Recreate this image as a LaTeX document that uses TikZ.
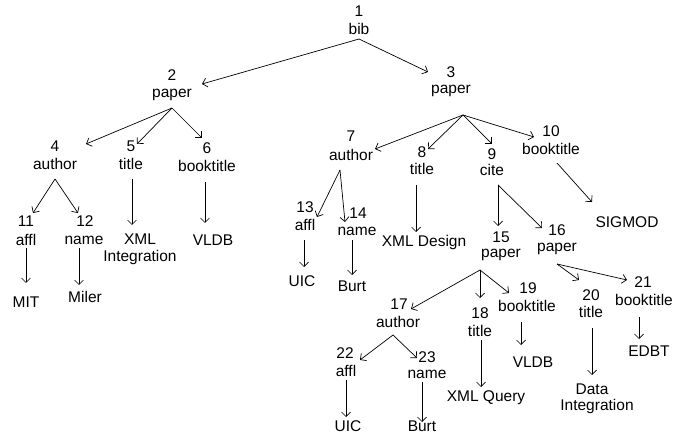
\documentclass[tikz,border=0pt]{standalone}
\usepackage{fontspec}
\setmainfont{Liberation Sans}
\usetikzlibrary{arrows.meta}
\begin{document}
\begin{tikzpicture}[x=1pt,y=-1pt,
  t/.style={anchor=base,inner sep=0pt,font=\fontsize{15.5}{17}\selectfont},
  arr/.style={-{Straight Barb[length=4.5pt,width=9pt]},line width=0.7pt}]
\useasboundingbox[fill=white] (0,0) rectangle (686,438);
% numbered nodes: i = number, n = label
\node[t] (i1) at (359,16.5) {1};   \node[t] (n1) at (359,35) {bib};
\node[t] (i2) at (172,80.5) {2};   \node[t] (n2) at (172,97.3) {paper};
\node[t] (i3) at (451,77.5) {3};   \node[t] (n3) at (451,94) {paper};
\node[t] (i4) at (55,151.5) {4};   \node[t] (n4) at (55,170) {author};
\node[t] (i5) at (131,151.5) {5};  \node[t] (n5) at (131,170) {title};
\node[t] (i6) at (207,153.5) {6};  \node[t] (n6) at (207,172) {booktitle};
\node[t] (i7) at (351,141.5) {7};  \node[t] (n7) at (351,161) {author};
\node[t] (i8) at (422,157.5) {8};  \node[t] (n8) at (422,175) {title};
\node[t] (i9) at (492,159.5) {9};  \node[t] (n9) at (492,176) {cite};
\node[t] (i10) at (551,136.5) {10}; \node[t] (n10) at (551,155) {booktitle};
\node[t] (i11) at (26,226.5) {11};  \node[t] (n11) at (26,246) {affl};
\node[t] (i12) at (85,226.5) {12};  \node[t] (n12) at (84,245) {name};
\node[t] (i13) at (305,212.5) {13}; \node[t] (n13) at (305,231) {affl};
\node[t] (i14) at (358,218.5) {14}; \node[t] (n14) at (357,236) {name};
\node[t] (i15) at (501,242.5) {15}; \node[t] (n15) at (501,258) {paper};
\node[t] (i16) at (557,235.5) {16}; \node[t] (n16) at (557,252) {paper};
\node[t] (i17) at (399,309.5) {17}; \node[t] (n17) at (398,328) {author};
\node[t] (i18) at (480,318.5) {18}; \node[t] (n18) at (480,337) {title};
\node[t] (i19) at (528,293.5) {19}; \node[t] (n19) at (527,312) {booktitle};
\node[t] (i20) at (591,300.5) {20}; \node[t] (n20) at (591,318) {title};
\node[t] (i21) at (643,287.5) {21}; \node[t] (n21) at (644,306) {booktitle};
\node[t] (i22) at (345,358.5) {22}; \node[t] (n22) at (346,377) {affl};
\node[t] (i23) at (427,362.5) {23}; \node[t] (n23) at (427,379) {name};
% leaves
\node[t] (mit) at (26,307.5) {MIT};
\node[t] (miler) at (85,302.5) {Miler};
\node[t] (xmli) at (140,244.5) {XML};
\node[t] (xmli2) at (140,262) {Integration};
\node[t] (vldba) at (213,245.5) {VLDB};
\node[t] (uica) at (302,286.5) {UIC};
\node[t] (burta) at (352,291.5) {Burt};
\node[t] (xmld) at (424,247) {XML Design};
\node[t] (sigmod) at (627,227.5) {SIGMOD};
\node[t] (vldbb) at (533,367.5) {VLDB};
\node[t] (data) at (592,394.5) {Data};
\node[t] (data2) at (597,411) {Integration};
\node[t] (edbt) at (649,356.5) {EDBT};
\node[t] (uicb) at (348,431.5) {UIC};
\node[t] (burtb) at (422,431.5) {Burt};
\node[t] (xmlq) at (486,402) {XML Query};
% connectors
\draw[arr] ([shift={(0,4)}]n1.base) -- ([shift={(30,3.5)}]i2.base);
\draw[arr] ([shift={(0,4)}]n1.base) -- ([shift={(-23,-5.5)}]i3.base);
\draw[arr] ([shift={(0,10.7)}]n2.base) -- ([shift={(31,-7.5)}]i4.base);
\draw[arr] ([shift={(0,10.7)}]n2.base) -- ([shift={(6,-7.5)}]i5.base);
\draw[arr] ([shift={(0,10.7)}]n2.base) -- ([shift={(-5,-15.5)}]i6.base);
\draw[arr] ([shift={(0,9)}]n4.base) -- ([shift={(7,-13.5)}]i11.base);
\draw[arr] ([shift={(0,9)}]n4.base) -- ([shift={(-7,-13.5)}]i12.base);
\draw[arr] ([shift={(1,9)}]n5.base) -- ([shift={(-8,-19.5)}]xmli.base);
\draw[arr] ([shift={(-2,10)}]n6.base) -- ([shift={(-8,-22.5)}]vldba.base);
\draw[arr] ([shift={(0,2.5)}]n11.base) -- ([shift={(0,-24.5)}]mit.base);
\draw[arr] ([shift={(-5,3)}]n12.base) -- ([shift={(-6,-17.5)}]miler.base);
\draw[arr] ([shift={(12,21)}]n3.base) -- ([shift={(24,7.5)}]i7.base);
\draw[arr] ([shift={(12,21)}]n3.base) -- ([shift={(6,-8.5)}]i8.base);
\draw[arr] ([shift={(12,21)}]n3.base) -- ([shift={(0,-15.5)}]i9.base);
\draw[arr] ([shift={(12,21)}]n3.base) -- ([shift={(-17,0.5)}]i10.base);
\draw[arr] ([shift={(-11,9)}]n7.base) -- ([shift={(12,4.5)}]i13.base);
\draw[arr] ([shift={(-11,9)}]n7.base) -- ([shift={(-13,3.5)}]i14.base);
\draw[arr] ([shift={(-6,10)}]n8.base) -- ([shift={(-8,-15)}]xmld.base);
\draw[arr] ([shift={(-1,9)}]n13.base) -- ([shift={(2,-19.5)}]uica.base);
\draw[arr] ([shift={(-5,4)}]n14.base) -- ([shift={(0,-16.5)}]burta.base);
\draw[arr] ([shift={(6,8)}]n10.base) -- ([shift={(-35,-25.5)}]sigmod.base);
\draw[arr] ([shift={(6,9)}]n9.base) -- ([shift={(-3,-16.5)}]i15.base);
\draw[arr] ([shift={(6,9)}]n9.base) -- ([shift={(-15,-7.5)}]i16.base);
\draw[arr] ([shift={(-21,12)}]n15.base) -- ([shift={(12,-0.5)}]i17.base);
\draw[arr] ([shift={(-21,12)}]n15.base) -- ([shift={(0,-20.5)}]i18.base);
\draw[arr] ([shift={(-21,12)}]n15.base) -- ([shift={(-19,-0.5)}]i19.base);
\draw[arr] ([shift={(0,12)}]n16.base) -- ([shift={(-12,-20.5)}]i20.base);
\draw[arr] ([shift={(0,12)}]n16.base) -- ([shift={(-16,-7.5)}]i21.base);
\draw[arr] ([shift={(-6,10)}]n19.base) -- ([shift={(-12,-22.5)}]vldbb.base);
\draw[arr] ([shift={(1,10)}]n20.base) -- ([shift={(0,-19.5)}]data.base);
\draw[arr] ([shift={(-5,11)}]n21.base) -- ([shift={(-10,-17.5)}]edbt.base);
\draw[arr] ([shift={(-5,7)}]n17.base) -- ([shift={(15,1.5)}]i22.base);
\draw[arr] ([shift={(-5,7)}]n17.base) -- ([shift={(-10,-4.5)}]i23.base);
\draw[arr] ([shift={(1,3)}]n18.base) -- ([shift={(-5,-15)}]xmlq.base);
\draw[arr] ([shift={(0,3)}]n22.base) -- ([shift={(-2,-14.5)}]uicb.base);
\draw[arr] ([shift={(-5,3)}]n23.base) -- ([shift={(0,-9.5)}]burtb.base);
\end{tikzpicture}
\end{document}
